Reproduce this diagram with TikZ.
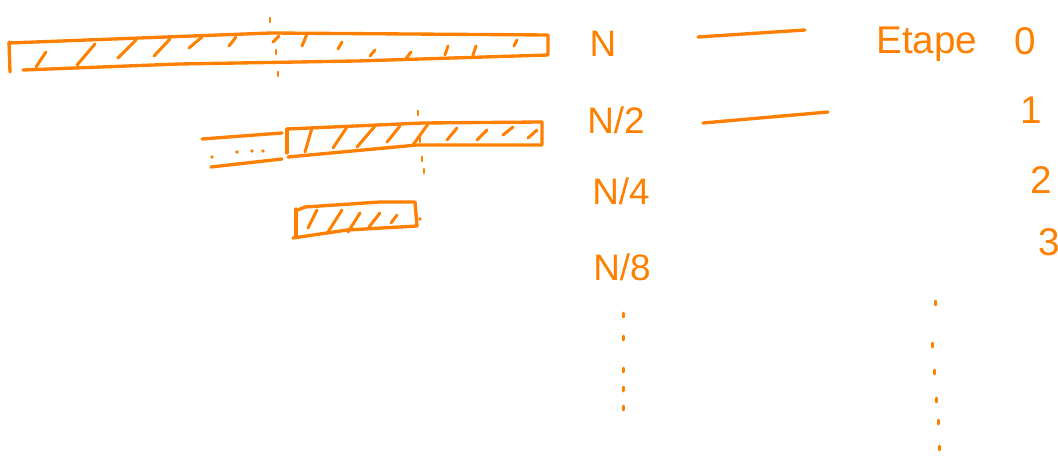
\documentclass[tikz,border=0pt]{standalone}
\usepackage{fontspec}
\setsansfont{Liberation Sans}
\usepackage{xcolor}
\usetikzlibrary{positioning}
\definecolor{marker}{RGB}{255,128,0}

\begin{document}
\begin{tikzpicture}[x=0.02cm,y=-0.02cm,
  pen/.style={draw=marker,line width=1.9pt,line cap=round,line join=round},
  hatch/.style={pen,line width=1.7pt},
  dot/.style={pen,line width=1.7pt},
  lbl/.style={text=marker,font=\sffamily\fontsize{21}{24}\selectfont,inner sep=0pt},
  stage/.style={text=marker,font=\sffamily\fontsize{22}{26}\selectfont,inner sep=0pt}
]
\useasboundingbox (0,0) rectangle (1058,459);

% full array (stage 0)
\draw[pen] (9,42) -- (10,72);
\draw[pen] (9,43) -- (140,38) -- (271,33) -- (548,35) -- (548,55) -- (357,61) -- (179,64) -- (23,70);
\foreach \a/\b/\c/\d in {36/67/46/52, 77/65/95/44, 118/58/136/40, 154/56/170/39,
  189/48/202/37, 229/46/236/37, 273/42/279/36}
  \draw[hatch] (\a,\b) -- (\c,\d);
\foreach \a/\b/\c/\d in {302/46/307/34, 338/49/342/42, 370/56/375/50, 405/60/411/52,
  445/55/448/46, 473/55/476/46, 514/46/517/40}
  \draw[hatch] (\a,\b) -- (\c,\d);
\foreach \x/\y in {270/20, 276/52, 278/74}
  \draw[dot] (\x,\y-2) -- (\x,\y+2);

% half array (stage 1)
\draw[pen] (287,129) -- (287,153);
\draw[pen] (287,129) -- (423,123) -- (542,122) -- (542,145) -- (417,145) -- (288,157);
\draw[pen] (202,139) -- (282,133);
\draw[pen] (211,167) -- (282,159);
\foreach \x/\y in {212/157, 237/152, 252/151, 263/151}
  \fill[marker] (\x,\y) circle (1.8);
\foreach \a/\b/\c/\d in {305/152/312/128, 333/148/347/127, 357/147/375/126,
  387/142/400/126, 413/145/428/124, 447/140/457/128, 477/140/487/130,
  503/135/513/127, 528/138/537/130}
  \draw[hatch] (\a,\b) -- (\c,\d);
\foreach \x/\y in {418/113, 420/140, 422/159, 424/171}
  \draw[dot] (\x,\y-2) -- (\x,\y+2);

% quarter array (stage 2)
\draw[pen] (296,209) -- (296,237);
\draw[pen] (298,210) -- (305,207) -- (380,202) -- (415,202) -- (417,226) -- (347,230) -- (293,238);
\fill[marker] (420,219) circle (1.8);
\foreach \a/\b/\c/\d in {308/228/317/210, 328/232/342/210, 348/232/360/213,
  369/227/380/213, 391/223/397/215}
  \draw[hatch] (\a,\b) -- (\c,\d);

% sizes
\node[lbl] (n1) at (603,44) {N};
\node[lbl] (n2) at (616,120) {N/2};
\node[lbl] (n4) at (621,191) {N/4};
\node[lbl] (n8) at (622,267) {N/8};
\foreach \y in {315,338,370,389,408}
  \draw[dot] (623,\y-2) -- (623,\y+2);

% dashes
\coordinate (d1a) at (698,37);
\coordinate (d1b) at (805,30);
\coordinate (d2a) at (703,123);
\coordinate (d2b) at (828,112);
\draw[pen] (d1a) -- (d1b);
\draw[pen] (d2a) -- (d2b);

% stages
\node[stage,anchor=base west] (etape) at (876,54) {Etape};
\node[stage] (s0) at (1025,41) {0};
\node[stage] (s1) at (1031,110) {1};
\node[stage] (s2) at (1041,180) {2};
\node[stage] (s3) at (1049,242) {3};
\foreach \x/\y in {935/303, 932/345, 934/372, 936/400, 938/422, 939/448}
  \draw[dot] (\x,\y-2) -- (\x,\y+2);
\end{tikzpicture}
\end{document}
